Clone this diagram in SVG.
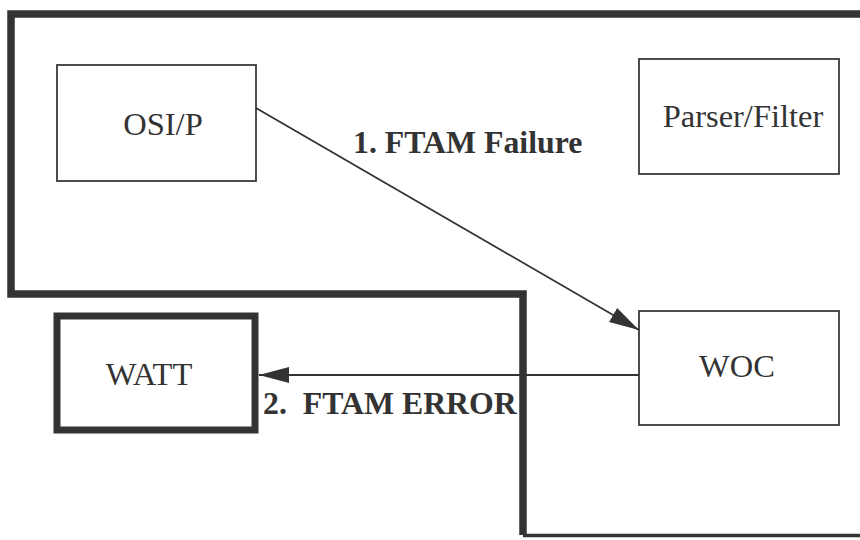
<svg xmlns="http://www.w3.org/2000/svg" width="860" height="540" viewBox="0 0 860 540">
<style>
.box{fill:#fff;stroke:#3a3a3a;stroke-width:1.8}
.thick{fill:#fff;stroke:#333;stroke-width:7}
.bound{fill:none;stroke:#333;stroke-width:7.5}
.lbl{font-family:"Liberation Serif","Times New Roman",serif;font-size:32.5px;fill:#333;text-anchor:middle}
.edge{font-family:"Liberation Serif","Times New Roman",serif;font-size:31.8px;font-weight:bold;fill:#333}
.conn{stroke:#333;stroke-width:1.8;fill:none}
</style>
<defs>
<marker id="ah" viewBox="0 0 30 16" refX="30" refY="8" markerWidth="30" markerHeight="16" markerUnits="userSpaceOnUse" orient="auto">
<path d="M0,0 L30,8 L0,16 z" fill="#333"/>
</marker>
</defs>
<rect width="860" height="540" fill="#fff"/>
<g id="boundary">
<path class="bound" d="M864,14 H11 V294 H523 V535"/>
<path d="M523,535.5 H864" stroke="#333" stroke-width="3.5" fill="none"/>
</g>
<g id="osip">
<rect class="box" x="57" y="65" width="199" height="116"/>
<text class="lbl" x="163" y="135">OSI/P</text>
</g>
<g id="parser">
<rect class="box" x="639" y="59" width="200" height="115"/>
<text class="lbl" x="743" y="127">Parser/Filter</text>
</g>
<g id="watt">
<rect class="thick" x="57" y="316" width="198" height="114"/>
<text class="lbl" x="149" y="385">WATT</text>
</g>
<g id="woc">
<rect class="box" x="639" y="311" width="200" height="114"/>
<text class="lbl" x="737" y="377">WOC</text>
</g>
<g id="connectors">
<line class="conn" x1="256" y1="108" x2="639" y2="330" marker-end="url(#ah)"/>
<line class="conn" x1="639" y1="375" x2="259" y2="375" marker-end="url(#ah)"/>
<text class="edge" x="353" y="153">1. FTAM Failure</text>
<text class="edge" x="263" y="414" xml:space="preserve">2.  FTAM ERROR</text>
</g>
</svg>
